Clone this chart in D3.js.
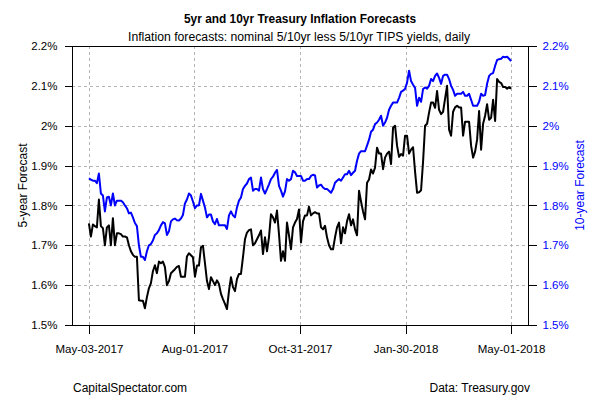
<!DOCTYPE html>
<html>
<head>
<meta charset="utf-8">
<script src="https://cdn.jsdelivr.net/npm/d3@7"></script>
<style>
  html, body { margin: 0; padding: 0; background: #fff; }
  svg { display: block; font-family: "Liberation Sans", Arial, sans-serif; }
</style>
</head>
<body>
<svg id="chart" width="600" height="400"></svg>
<script>
// ---- data ----
const xTickLabels = ["May-03-2017", "Aug-01-2017", "Oct-31-2017", "Jan-30-2018", "May-01-2018"];
const yTicks = [1.5, 1.6, 1.7, 1.8, 1.9, 2.0, 2.1, 2.2];
const yTickLabels = ["1.5%", "1.6%", "1.7%", "1.8%", "1.9%", "2%", "2.1%", "2.2%"];

// 10-year inflation forecast (blue, right axis)
const tenYear = [
  1.868,1.865,1.862,1.862,1.856,1.88,1.83,1.825,1.785,1.82,
  1.822,1.80,1.83,1.80,1.812,1.812,1.812,1.808,1.80,1.793,
  1.78,1.782,1.77,1.756,1.748,1.70,1.671,1.671,1.663,1.685,
  1.70,1.703,1.712,1.726,1.73,1.738,1.75,1.758,1.755,1.726,
  1.735,1.76,1.765,1.767,1.763,1.762,1.767,1.776,1.805,1.815,
  1.83,1.825,1.81,1.793,
  1.80,1.80,1.829,1.812,1.795,1.77,
  1.777,1.777,1.76,1.753,1.766,1.75,1.75,1.75,1.75,1.741,
  1.775,1.785,1.775,1.77,1.795,1.812,1.82,1.841,1.849,1.855,
  1.866,1.87,1.837,1.841,1.841,1.837,1.87,1.841,1.83,1.841,
  1.853,1.866,1.872,1.882,1.889,1.849,1.837,1.822,1.835,1.866,
  1.862,1.866,1.887,1.883,
  1.874,1.874,1.874,1.862,1.862,1.866,
  1.866,1.874,1.877,1.875,1.845,1.85,1.852,1.845,1.841,1.841,
  1.837,1.832,1.841,1.857,1.862,1.866,1.862,1.87,1.878,1.878,
  1.887,1.876,1.882,1.887,1.912,1.93,1.936,1.936,1.936,1.95,
  1.965,1.985,1.99,2.004,2.008,2.015,2.025,2.0,2.008,2.02,
  2.04,2.05,2.058,2.058,2.058,2.07,
  2.085,2.088,2.092,2.108,
  2.138,2.112,2.103,2.095,2.05,2.07,2.06,2.092,2.096,2.093,
  2.1,2.117,2.112,2.125,2.131,2.12,2.105,2.125,2.128,2.128,
  2.117,2.1,2.09,2.075,2.08,2.08,2.08,2.085,2.075,2.075,
  2.08,2.065,2.05,2.05,2.05,2.06,2.08,2.075,2.077,2.105,
  2.125,2.13,2.132,2.15,2.165,2.167,2.168,2.173,2.172,2.173,
  2.168,2.162
];

// 5-year inflation forecast (black, left axis)
const fiveYear = [
  1.755,1.722,1.752,1.748,1.745,1.815,1.748,1.743,1.70,1.745,
  1.75,1.70,1.768,1.70,1.73,1.73,1.728,1.722,1.722,1.72,
  1.70,1.685,1.676,1.671,1.671,1.562,1.561,1.561,1.542,1.57,
  1.592,1.605,1.635,1.65,1.63,1.659,1.655,1.659,1.645,1.60,
  1.61,1.63,1.635,1.64,1.646,1.648,1.621,1.621,1.621,1.672,
  1.68,1.675,1.67,1.621,
  1.649,1.649,1.695,1.699,1.655,1.611,
  1.59,1.62,1.61,1.60,1.612,1.603,1.578,1.565,1.553,1.54,
  1.585,1.62,1.595,1.585,1.615,1.628,1.628,1.67,1.715,1.732,
  1.738,1.74,1.70,1.705,1.715,1.725,1.737,1.678,1.72,1.685,
  1.72,1.778,1.77,1.757,1.787,1.728,1.661,1.685,1.661,1.757,
  1.725,1.69,1.745,1.757,
  1.766,1.79,1.707,1.76,1.775,1.775,
  1.797,1.775,1.78,1.783,1.78,1.78,1.745,1.74,1.749,1.72,
  1.70,1.69,1.69,1.72,1.745,1.757,1.705,1.745,1.73,1.76,
  1.778,1.75,1.765,1.74,1.725,1.837,1.81,1.785,1.765,1.857,
  1.865,1.89,1.88,1.895,1.945,1.93,1.93,1.891,1.92,1.93,
  1.935,1.904,1.995,2.0,1.95,1.922,
  1.929,1.925,1.975,1.975,
  1.93,1.94,1.946,1.885,1.832,1.833,1.838,1.91,2.0,2.005,
  2.033,2.058,2.058,2.045,2.087,2.04,2.029,2.035,2.068,2.1,
  1.99,1.975,2.035,2.046,2.05,2.046,2.046,1.975,2.01,2.01,
  2.01,1.95,1.92,1.935,1.965,2.037,1.94,2.005,2.025,2.054,
  2.015,2.02,2.065,2.012,2.117,2.11,2.107,2.097,2.097,2.093,
  2.097,2.093
];

// ---- layout ----
const box = { left: 72, right: 528, top: 46, bottom: 325 };
const N = fiveYear.length;
const pad = 0.04 * (N - 1);

const svg = d3.select("#chart");
const x = d3.scaleLinear().domain([-pad, N - 1 + pad]).range([box.left, box.right]);
const yL = d3.scaleLinear().domain([1.5, 2.2]).range([box.bottom, box.top]);
const yR = d3.scaleLinear().domain([1.5, 2.2]).range([box.bottom, box.top]);

const xTickIdx = xTickLabels.map((_, k) => k * (N - 1) / (xTickLabels.length - 1));

// grid
const grid = svg.append("g").attr("stroke", "#b4b4b4").attr("stroke-width", 1)
  .attr("stroke-dasharray", "3,3").attr("shape-rendering", "crispEdges");
grid.selectAll("line.v").data(xTickIdx).join("line").attr("class", "v")
  .attr("x1", d => Math.round(x(d)) + 0.5).attr("x2", d => Math.round(x(d)) + 0.5)
  .attr("y1", box.top).attr("y2", box.bottom);
grid.selectAll("line.h").data(yTicks.slice(1, -1)).join("line").attr("class", "h")
  .attr("y1", d => Math.round(yL(d)) + 0.5).attr("y2", d => Math.round(yL(d)) + 0.5)
  .attr("x1", box.left).attr("x2", box.right);

// lines
const lineL = d3.line().x((d, i) => x(i)).y(d => yL(d));
const lineR = d3.line().x((d, i) => x(i)).y(d => yR(d));
svg.append("path").datum(tenYear).attr("d", lineR)
  .attr("fill", "none").attr("stroke", "#0000ff").attr("stroke-width", 2).attr("stroke-linejoin", "round");
svg.append("path").datum(fiveYear).attr("d", lineL)
  .attr("fill", "none").attr("stroke", "#000").attr("stroke-width", 2).attr("stroke-linejoin", "round");

// box
svg.append("rect").attr("x", box.left + 0.5).attr("y", box.top + 0.5)
  .attr("width", box.right - box.left).attr("height", box.bottom - box.top)
  .attr("fill", "none").attr("stroke", "#000").attr("stroke-width", 1).attr("shape-rendering", "crispEdges");

// axes
const fontSize = 11.5;
const axL = svg.append("g").attr("transform", `translate(${box.left + 0.5},0)`)
  .call(d3.axisLeft(yL).tickValues(yTicks).tickFormat((d, i) => yTickLabels[i]).tickSize(8).tickPadding(7).tickSizeOuter(0));
const axR = svg.append("g").attr("transform", `translate(${box.right + 0.5},0)`)
  .call(d3.axisRight(yR).tickValues(yTicks).tickFormat((d, i) => yTickLabels[i]).tickSize(8).tickPadding(6).tickSizeOuter(0));
const axB = svg.append("g").attr("transform", `translate(0,${box.bottom + 0.5})`)
  .call(d3.axisBottom(x).tickValues(xTickIdx).tickFormat((d, i) => xTickLabels[i]).tickSize(8).tickPadding(11).tickSizeOuter(0));
[axL, axR, axB].forEach(a => {
  a.select(".domain").remove();
  a.selectAll("text").attr("font-size", fontSize).attr("font-family", '"Liberation Sans", Arial, sans-serif');
  a.selectAll("line").attr("stroke", "#000").attr("shape-rendering", "crispEdges");
});
axL.selectAll("text").attr("fill", "#000");
axB.selectAll("text").attr("fill", "#000");
axR.selectAll("text").attr("fill", "#0000ff");

// axis titles
svg.append("text").attr("transform", `translate(27,${(box.top + box.bottom) / 2}) rotate(-90)`)
  .attr("text-anchor", "middle").attr("font-size", 12).attr("fill", "#000").text("5-year Forecast");
svg.append("text").attr("transform", `translate(584,${(box.top + box.bottom) / 2}) rotate(-90)`)
  .attr("text-anchor", "middle").attr("font-size", 12).attr("fill", "#0000ff").text("10-year Forecast");

// titles
svg.append("text").attr("x", 300).attr("y", 23).attr("text-anchor", "middle")
  .attr("font-size", 12.5).attr("font-weight", "bold").attr("fill", "#000")
  .attr("textLength", 232).attr("lengthAdjust", "spacingAndGlyphs")
  .text("5yr and 10yr Treasury Inflation Forecasts");
svg.append("text").attr("x", 299).attr("y", 41).attr("text-anchor", "middle")
  .attr("font-size", 12.5).attr("fill", "#000")
  .attr("textLength", 342).attr("lengthAdjust", "spacingAndGlyphs")
  .text("Inflation forecasts: nominal 5/10yr less 5/10yr TIPS yields, daily");

// footer
svg.append("text").attr("x", 73).attr("y", 392).attr("font-size", 12).attr("fill", "#000")
  .text("CapitalSpectator.com");
svg.append("text").attr("x", 530).attr("y", 392).attr("text-anchor", "end").attr("font-size", 12).attr("fill", "#000")
  .text("Data: Treasury.gov");
</script>
</body>
</html>
